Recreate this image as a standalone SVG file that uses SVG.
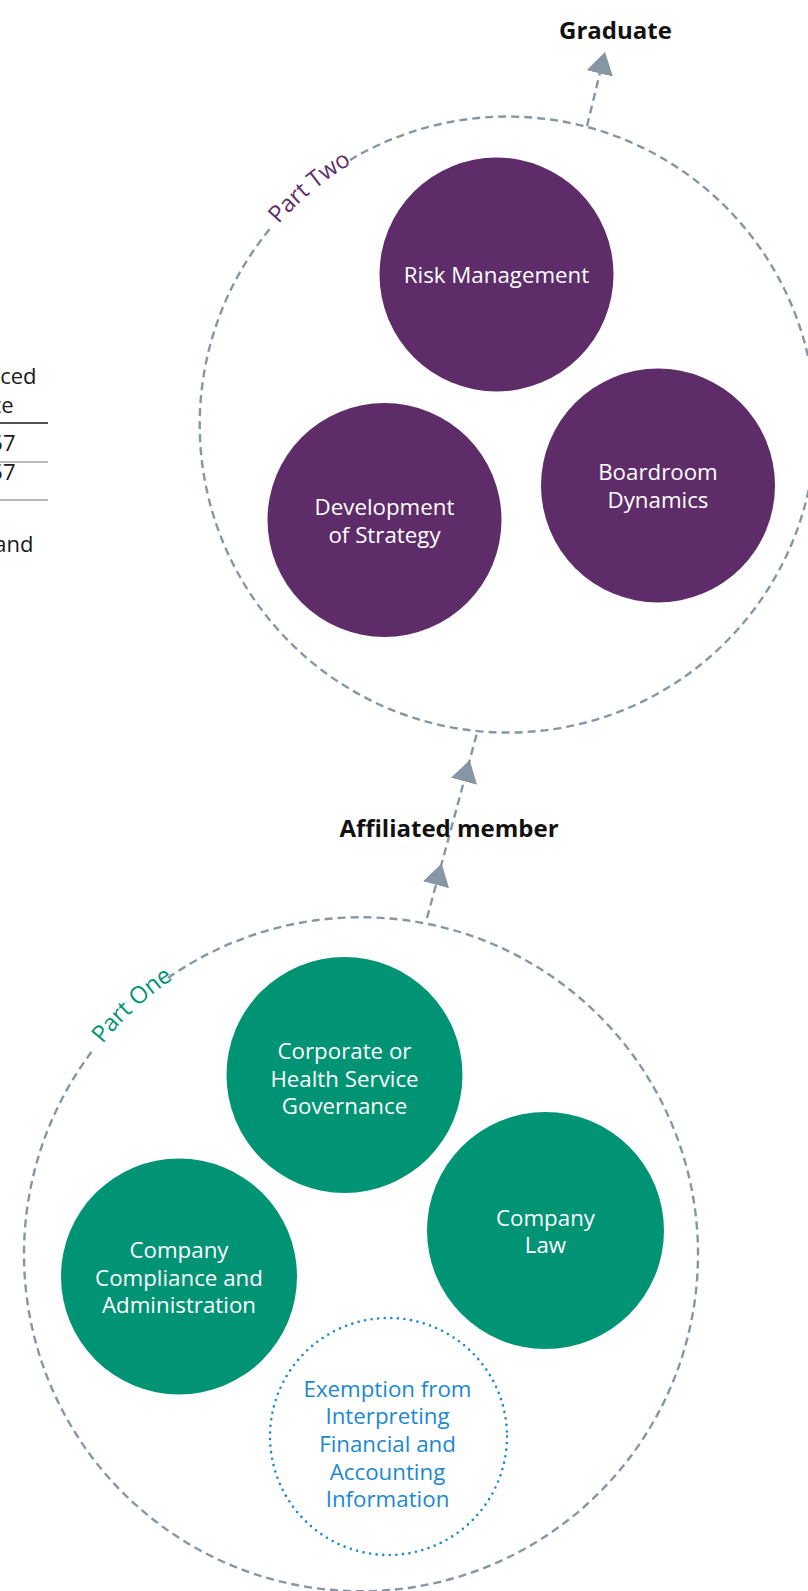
<svg xmlns="http://www.w3.org/2000/svg" xmlns:xlink="http://www.w3.org/1999/xlink" width="808" height="1591" viewBox="0 0 808 1591">
  <style>
    .ring { fill: none; stroke: #8796a3; stroke-width: 2.4; stroke-dasharray: 8 5; }
    .conn { fill: none; stroke: #8796a3; stroke-width: 2.4; stroke-dasharray: 8 5; }
    .purple { fill: #5e2d69; }
    .green { fill: #009474; }
    .exempt { fill: none; stroke: #1b88d0; stroke-width: 2.6; stroke-dasharray: 0 6.6; stroke-linecap: round; }
    .ctext { font-family: "Open Sans", "Noto Sans", sans-serif; font-size: 22.3px; fill: #ffffff; text-anchor: middle; }
    .btext { font-family: "Open Sans", "Noto Sans", sans-serif; font-size: 22.3px; fill: #1b88d0; text-anchor: middle; }
    .stage { font-family: "Open Sans", "Noto Sans", sans-serif; font-size: 24px; font-weight: bold; fill: #111111; text-anchor: middle; }
    .lbl { font-family: "Open Sans", "Noto Sans", sans-serif; font-size: 23.5px; }
    .tbl { font-family: "Open Sans", "Noto Sans", sans-serif; font-size: 22px; fill: #1a1a1a; text-anchor: end; }
  </style>
  <defs>
    <marker id="arrow" markerUnits="userSpaceOnUse" markerWidth="23" markerHeight="28" viewBox="0 0 23 28" refX="22" refY="14" orient="auto">
      <path d="M0,0.5 L22,14 L0,27.5 Z" fill="#8796a3"/>
    </marker>
    <path id="p2path" d="M 199 425 A 308 308 0 1 1 815 425 A 308 308 0 1 1 199 425"/>
    <path id="p1path" d="M 24 1254 A 337 337 0 1 1 698 1254 A 337 337 0 1 1 24 1254"/>
  </defs>

  <!-- partial table on left edge -->
  <g id="table-fragment">
    <text class="tbl" x="36.5" y="384">ced</text>
    <text class="tbl" x="13.5" y="413">te</text>
    <line x1="0" y1="423" x2="48" y2="423" stroke="#1a1a1a" stroke-width="1.3"/>
    <text class="tbl" x="15.5" y="451">57</text>
    <line x1="0" y1="462" x2="48" y2="462" stroke="#777777" stroke-width="1.2"/>
    <text class="tbl" x="15.5" y="480">57</text>
    <line x1="0" y1="500" x2="48" y2="500" stroke="#777777" stroke-width="1.2"/>
    <text class="tbl" x="33.5" y="552">and</text>
  </g>

  <!-- Part Two ring -->
  <g id="part-two">
    <path class="ring" d="M 350 160 A 308 308 0 1 1 271 227.5"/>
    <text class="lbl" fill="#5e2d69" dy="4"><textPath xlink:href="#p2path" href="#p2path" startOffset="222">Part Two</textPath></text>
  </g>

  <!-- Part One ring -->
  <g id="part-one">
    <path class="ring" d="M 168 978 A 337 337 0 1 1 94.5 1048"/>
    <text class="lbl" fill="#009474" dy="4"><textPath xlink:href="#p1path" href="#p1path" startOffset="230">Part One</textPath></text>
  </g>

  <!-- connectors -->
  <g id="connectors">
    <path class="conn" d="M 587 126 L 605 52" marker-end="url(#arrow)"/>
    <path class="conn" d="M 427 918 L 441.7 863.5 L 469.7 760 L 477 733" marker-mid="url(#arrow)"/>
  </g>

  <g id="graduate">
    <text class="stage" x="615.5" y="39">Graduate</text>
  </g>
  <g id="affiliated-member">
    <text class="stage" x="449" y="837">Affiliated member</text>
  </g>

  <g id="risk-management">
    <circle class="purple" cx="496.5" cy="274.5" r="117"/>
    <text class="ctext" x="496.5" y="283">Risk Management</text>
  </g>
  <g id="development-of-strategy">
    <circle class="purple" cx="384.5" cy="520" r="117"/>
    <text class="ctext" x="384.5" y="515">Development</text>
    <text class="ctext" x="384.5" y="542.5">of Strategy</text>
  </g>
  <g id="boardroom-dynamics">
    <circle class="purple" cx="658" cy="485.5" r="117"/>
    <text class="ctext" x="658" y="480">Boardroom</text>
    <text class="ctext" x="658" y="507.5">Dynamics</text>
  </g>

  <g id="corporate-governance">
    <circle class="green" cx="344.5" cy="1075" r="118"/>
    <text class="ctext" x="344.5" y="1059.3">Corporate or</text>
    <text class="ctext" x="344.5" y="1086.7">Health Service</text>
    <text class="ctext" x="344.5" y="1114">Governance</text>
  </g>
  <g id="company-compliance">
    <circle class="green" cx="179" cy="1276.5" r="118"/>
    <text class="ctext" x="179" y="1258">Company</text>
    <text class="ctext" x="179" y="1285.5">Compliance and</text>
    <text class="ctext" x="179" y="1313">Administration</text>
  </g>
  <g id="company-law">
    <circle class="green" cx="545.5" cy="1230.5" r="118.5"/>
    <text class="ctext" x="545.5" y="1225.7">Company</text>
    <text class="ctext" x="545.5" y="1253.3">Law</text>
  </g>
  <g id="exemption">
    <circle class="exempt" cx="388.5" cy="1436.5" r="118.5"/>
    <text class="btext" x="387.5" y="1396.7">Exemption from</text>
    <text class="btext" x="387.5" y="1424.3">Interpreting</text>
    <text class="btext" x="387.5" y="1452">Financial and</text>
    <text class="btext" x="387.5" y="1479.5">Accounting</text>
    <text class="btext" x="387.5" y="1507.3">Information</text>
  </g>
</svg>
